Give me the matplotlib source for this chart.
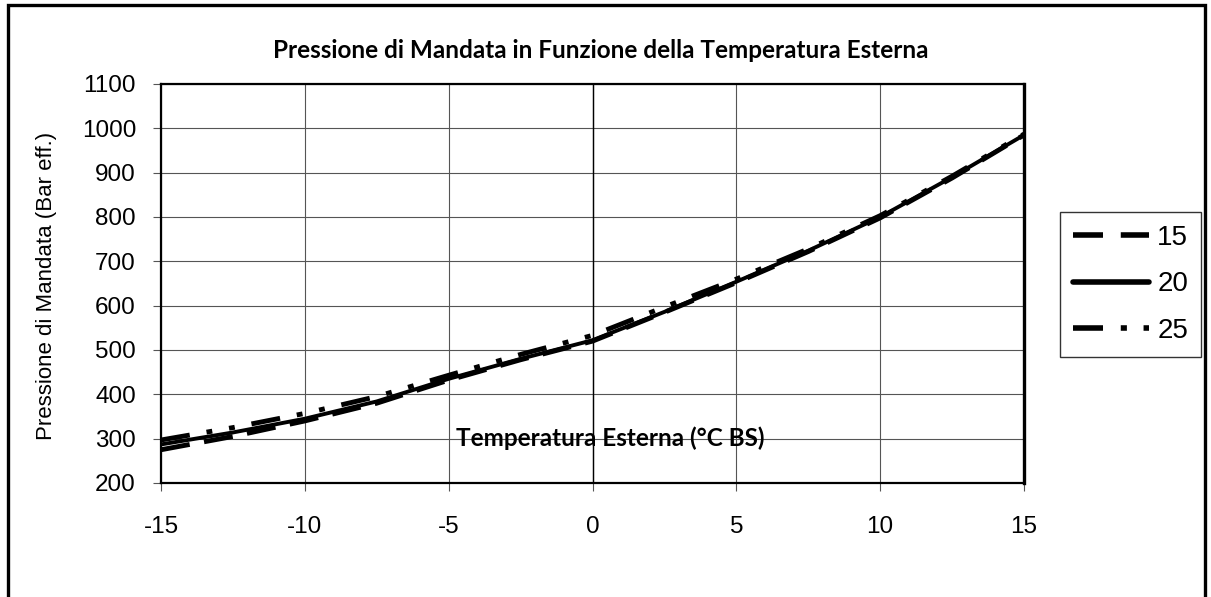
import matplotlib
matplotlib.use("Agg")
import matplotlib.pyplot as plt
from matplotlib.patches import Rectangle

# Outdoor temperature (°C dry bulb)
temperature = [-15, -12.5, -10, -7.5, -5, -2.5, 0, 2.5, 5, 7.5, 10, 12.5, 15]

# Discharge pressure for each curve
pressure_15 = [275, 305, 340, 380, 432, 478, 520, 585, 652, 722, 798, 888, 985]
pressure_20 = [287, 314, 345, 384, 435, 480, 522, 586, 654, 724, 800, 890, 985]
pressure_25 = [297, 325, 357, 395, 443, 490, 533, 597, 660, 728, 803, 892, 987]

series_labels = ["15", "20", "25"]
x_ticks = [-15, -10, -5, 0, 5, 10, 15]
y_ticks = [200, 300, 400, 500, 600, 700, 800, 900, 1000, 1100]

W, H = 1211, 597
fig = plt.figure(figsize=(W / 100, H / 100), dpi=100)
fig.patch.set_facecolor("white")

# outer chart frame (open at the bottom edge)
fig.add_artist(Rectangle((8 / W, -0.05), (1205 - 8) / W, 1.05 - 5 / H,
                         transform=fig.transFigure, fill=False,
                         edgecolor="black", linewidth=2.4, clip_on=False))

ax = fig.add_axes([161 / W, 1 - 483 / H, (1024 - 161) / W, (483 - 84) / H])
ax.set_xlim(-15, 15)
ax.set_ylim(200, 1100)
ax.set_xticks(x_ticks)
ax.set_yticks(y_ticks)
ax.set_xticklabels([str(t) for t in x_ticks])
ax.set_yticklabels([str(t) for t in y_ticks])

ax.grid(True, color="#555555", linewidth=0.8)
ax.axvline(0, color="black", linewidth=1.0, zorder=1)
ax.set_axisbelow(True)

for side in ["left", "bottom", "top"]:
    ax.spines[side].set_linewidth(1.6)
ax.spines["right"].set_linewidth(2.4)

ax.tick_params(axis="both", direction="out", length=6, width=0.8,
               color="#555555", labelsize=17.5)
ax.tick_params(axis="x", pad=18)
ax.tick_params(axis="y", pad=12)
for lab in ax.get_xticklabels() + ax.get_yticklabels():
    lab.set_fontfamily("Liberation Sans")

lw = 3.5
ax.plot(temperature, pressure_15, color="black", linewidth=lw,
        dashes=(6.0, 3.0), label=series_labels[0])
ax.plot(temperature, pressure_20, color="black", linewidth=2.8,
        label=series_labels[1], solid_capstyle="round")
ax.plot(temperature, pressure_25, color="black", linewidth=lw,
        dashes=(6.0, 3.5, 1.2, 3.5, 1.2, 3.5), label=series_labels[2])

fig.text(601 / W, 1 - 51 / H,
         "Pressione di Mandata in Funzione della Temperatura Esterna",
         ha="center", va="center", fontsize=17.5, fontweight="bold",
         family="Lato")
ax.text(0.6, 300, "Temperatura Esterna (°C BS)", ha="center", va="center",
        fontsize=17.5, fontweight="bold", family="Lato", zorder=5)
fig.text(47 / W, 1 - 286 / H, "Pressione di Mandata (Bar eff.)",
         rotation=90, ha="center", va="center", fontsize=16,
         family="Liberation Sans")

leg = fig.legend(loc="upper left", bbox_to_anchor=(1060 / W, 1 - 212 / H),
                 bbox_transform=fig.transFigure, frameon=True, fancybox=False,
                 edgecolor="black", handlelength=2.75, handletextpad=0.3,
                 labelspacing=0.75, borderpad=0.45, borderaxespad=0,
                 prop={"family": "Liberation Sans", "size": 20})
leg.get_frame().set_linewidth(1.0)
handles = leg.get_lines()
for h in handles:
    h.set_linewidth(4.0)
handles[0].set_dashes((5.4, 3.2))
handles[2].set_dashes((5.4, 3.2, 1.1, 3.0, 1.1, 3.0))

fig.savefig("out.png", dpi=100, facecolor="white")
